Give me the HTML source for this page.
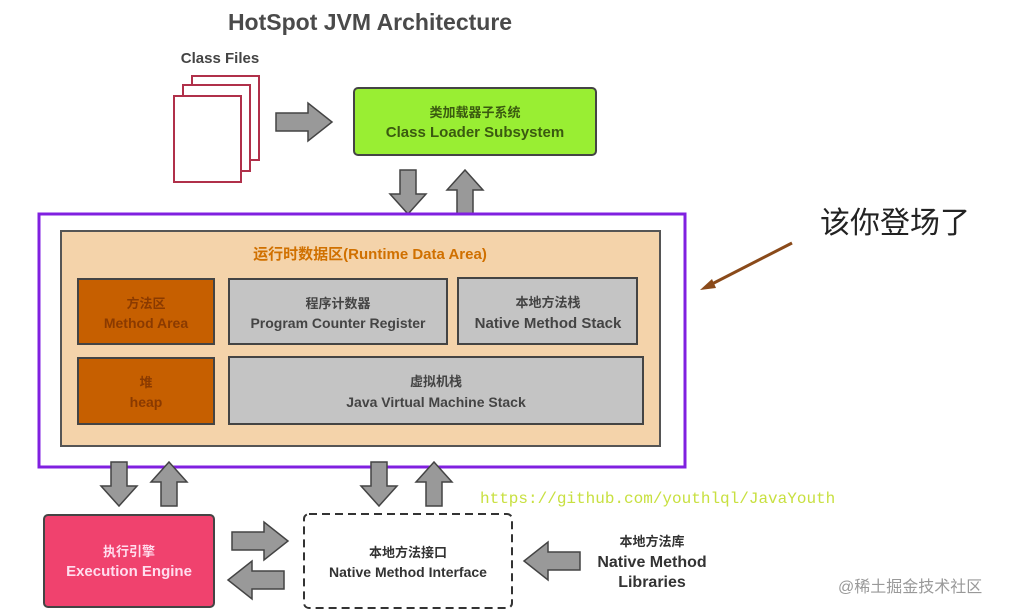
<!DOCTYPE html>
<html><head><meta charset="utf-8"><style>
html,body{margin:0;padding:0;background:#fff;}
svg{display:block;}
text{font-family:"Liberation Sans","Noto Sans CJK SC",sans-serif;font-weight:bold;}
</style></head><body>
<svg width="1015" height="616" viewBox="0 0 1015 616" xmlns="http://www.w3.org/2000/svg">
<defs>
<g id="ad"><path d="M-8,0 H8 V24 H18 L0,44 L-18,24 H-8 Z" fill="#999" stroke="#444" stroke-width="1.5"/></g>
<g id="au"><path d="M-8,44 H8 V20 H18 L0,0 L-18,20 H-8 Z" fill="#999" stroke="#444" stroke-width="1.5"/></g>
<g id="ar"><path d="M0,-9 H32 V-19 L56,0 L32,19 V9 H0 Z" fill="#999" stroke="#444" stroke-width="1.5"/></g>
<g id="al"><path d="M56,-9 H24 V-19 L0,0 L24,19 V9 H56 Z" fill="#999" stroke="#444" stroke-width="1.5"/></g>
</defs>
<text x="370" y="30" font-size="23" fill="#4a4a4a" text-anchor="middle">HotSpot JVM Architecture</text>
<text x="220" y="63" font-size="15" fill="#444" text-anchor="middle">Class Files</text>
<rect x="192" y="76" width="67" height="84" fill="#fff" stroke="#b0304a" stroke-width="2"/>
<rect x="183" y="85" width="67" height="86" fill="#fff" stroke="#b0304a" stroke-width="2"/>
<rect x="174" y="96" width="67" height="86" fill="#fff" stroke="#b0304a" stroke-width="2"/>
<use href="#ar" x="276" y="122"/>
<rect x="354" y="88" width="242" height="67" rx="4" fill="#99ee33" stroke="#444" stroke-width="2"/>
<text x="475" y="117" font-size="13" fill="#3a5a10" text-anchor="middle">类加载器子系统</text>
<text x="475" y="137" font-size="15" fill="#3a5a10" text-anchor="middle">Class Loader Subsystem</text>
<use href="#ad" x="408" y="170"/>
<use href="#au" x="465" y="170"/>
<rect x="39" y="214" width="646" height="253" fill="#fff" stroke="#8020e0" stroke-width="3"/>
<rect x="61" y="231" width="599" height="215" fill="#f4d3aa" stroke="#555" stroke-width="2"/>
<text x="370" y="259" font-size="15" fill="#d07000" text-anchor="middle" font-weight="normal">运行时数据区(Runtime Data Area)</text>
<rect x="78" y="279" width="136" height="65" fill="#c65f00" stroke="#444" stroke-width="2"/>
<text x="146" y="308" font-size="13" fill="#8a3a00" text-anchor="middle">方法区</text>
<text x="146" y="328" font-size="14" fill="#8a3a00" text-anchor="middle">Method Area</text>
<rect x="229" y="279" width="218" height="65" fill="#c4c4c4" stroke="#444" stroke-width="2"/>
<text x="338" y="308" font-size="13" fill="#444" text-anchor="middle">程序计数器</text>
<text x="338" y="328" font-size="14" fill="#444" text-anchor="middle">Program Counter Register</text>
<rect x="458" y="278" width="179" height="66" fill="#c4c4c4" stroke="#444" stroke-width="2"/>
<text x="548" y="307" font-size="13" fill="#444" text-anchor="middle">本地方法栈</text>
<text x="548" y="328" font-size="15" fill="#444" text-anchor="middle">Native Method Stack</text>
<rect x="78" y="358" width="136" height="66" fill="#c65f00" stroke="#444" stroke-width="2"/>
<text x="146" y="387" font-size="13" fill="#8a3a00" text-anchor="middle">堆</text>
<text x="146" y="407" font-size="14" fill="#8a3a00" text-anchor="middle">heap</text>
<rect x="229" y="357" width="414" height="67" fill="#c4c4c4" stroke="#444" stroke-width="2"/>
<text x="436" y="386" font-size="13" fill="#444" text-anchor="middle">虚拟机栈</text>
<text x="436" y="407" font-size="14" fill="#444" text-anchor="middle">Java Virtual Machine Stack</text>
<use href="#ad" x="119" y="462"/>
<use href="#au" x="169" y="462"/>
<use href="#ad" x="379" y="462"/>
<use href="#au" x="434" y="462"/>
<text x="480" y="503" font-size="16" fill="#c8e040" style="font-family:'Liberation Mono',monospace;font-weight:normal">https://github.com/youthlql/JavaYouth</text>
<rect x="44" y="515" width="170" height="92" rx="4" fill="#f0426e" stroke="#444" stroke-width="2"/>
<text x="129" y="556" font-size="13" fill="#fde" text-anchor="middle">执行引擎</text>
<text x="129" y="576" font-size="15" fill="#fde" text-anchor="middle">Execution Engine</text>
<use href="#ar" x="232" y="541"/>
<use href="#al" x="228" y="580"/>
<rect x="304" y="514" width="208" height="94" rx="5" fill="#fff" stroke="#333" stroke-width="2" stroke-dasharray="8,5"/>
<text x="408" y="557" font-size="13" fill="#333" text-anchor="middle">本地方法接口</text>
<text x="408" y="577" font-size="14" fill="#333" text-anchor="middle">Native Method Interface</text>
<use href="#al" x="524" y="561"/>
<text x="652" y="546" font-size="13" fill="#333" text-anchor="middle">本地方法库</text>
<text x="652" y="567" font-size="16" fill="#333" text-anchor="middle">Native Method</text>
<text x="652" y="587" font-size="16" fill="#333" text-anchor="middle">Libraries</text>
<text x="820" y="233" font-size="30" fill="#222" style="font-weight:normal">该你登场了</text>
<line x1="792" y1="243" x2="708" y2="286" stroke="#8a4a1a" stroke-width="3"/>
<path d="M700,290 L712,279 L716,288 Z" fill="#8a4a1a"/>
<text x="838" y="592" font-size="16" fill="#999" style="font-weight:normal">@稀土掘金技术社区</text>
</svg>
</body></html>
